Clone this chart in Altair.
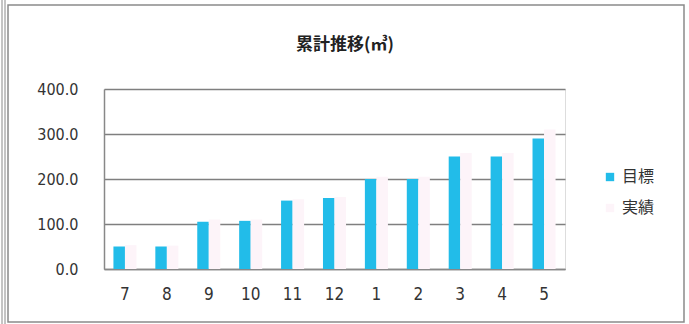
import altair as alt
import pandas as pd

months = ["7", "8", "9", "10", "11", "12", "1", "2", "3", "4", "5"]
target = [50, 50, 105, 107, 152, 158, 200, 200, 250, 250, 290]
actual = [53, 52, 110, 110, 155, 160, 205, 205, 258, 258, 310]
series = ["目標", "実績"]
colors = ["#22bce9", "#fdf4f9"]
y_ticks = [0, 100, 200, 300, 400]
title_text = ["累計推移(㎥)"]

rows = []
for m, t, a in zip(months, target, actual):
    rows.append({"month": m, "series": series[0], "value": t})
    rows.append({"month": m, "series": series[1], "value": a})
df = pd.DataFrame(rows)

NUMFONT = "DejaVu Sans Condensed, Liberation Sans Narrow, Liberation Sans, sans-serif"
JPFONT = "Noto Sans CJK JP"

bars = alt.Chart(df).mark_bar().encode(
    x=alt.X("month:N", sort=months, title=None,
            scale=alt.Scale(paddingInner=0.45, paddingOuter=0.225),
            axis=alt.Axis(labelAngle=0, labelFont=NUMFONT, labelFontSize=17,
                          labelColor="#333333", labelPadding=17, ticks=False,
                          domainColor="#888888", domainWidth=1.5, grid=False)),
    xOffset=alt.XOffset("series:N", sort=series),
    y=alt.Y("value:Q", title=None,
            scale=alt.Scale(domain=[0, 400]),
            axis=alt.Axis(values=y_ticks, format=".1f", labelFont=NUMFONT,
                          labelFontSize=16, labelColor="#333333", labelPadding=26,
                          ticks=False, domainColor="#888888", domainWidth=1.5,
                          grid=True, gridColor="#7f7f7f", gridWidth=1.5)),
    color=alt.Color("series:N", sort=series,
                    scale=alt.Scale(domain=series, range=colors),
                    legend=alt.Legend(title=None, orient="none", legendX=498, legendY=80,
                                      symbolType="square", symbolSize=70,
                                      symbolStrokeWidth=0,
                                      labelFont=JPFONT, labelFontSize=16,
                                      labelColor="#333333", rowPadding=15,
                                      labelOffset=4)),
)

one = pd.DataFrame({"t": title_text})
frame = alt.Chart(one).mark_rect(fill=None, stroke="#8a8a8a", strokeWidth=1.5).encode(
    x=alt.value(-96), x2=alt.value(580), y=alt.value(-84), y2=alt.value(233)
)
left1 = alt.Chart(one).mark_rule(stroke="#8a8a8a", strokeWidth=1).encode(
    x=alt.value(-102), y=alt.value(-89), y2=alt.value(235)
)
left2 = alt.Chart(one).mark_rule(stroke="#8a8a8a", strokeWidth=1).encode(
    x=alt.value(-99), y=alt.value(-89), y2=alt.value(235)
)
title = alt.Chart(one).mark_text(font=JPFONT, fontSize=17, fontWeight="bold",
                                 color="#222222", align="center", baseline="middle").encode(
    text="t:N", x=alt.value(241), y=alt.value(-44)
)

chart = alt.layer(frame, left1, left2, title, bars).properties(
    width=461, height=180,
    autosize=alt.AutoSizeParams(type="none"),
    padding={"left": 104, "top": 89, "right": 124, "bottom": 55},
).configure_view(stroke=None).configure(background="white")

chart.save("out.html", embed_options={"renderer": "svg", "actions": False})
